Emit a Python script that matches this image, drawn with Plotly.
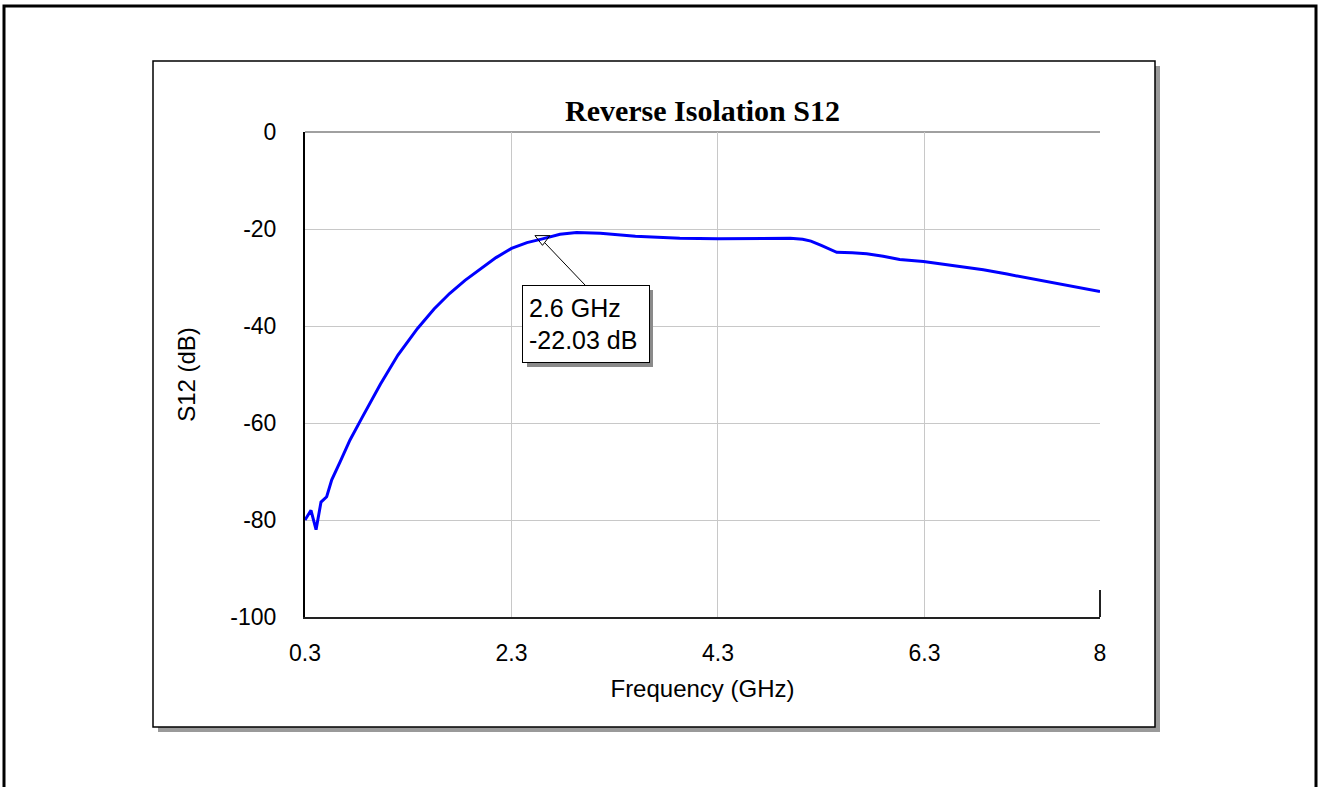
import plotly.graph_objects as go

# Data
freq_ghz = [0.30, 0.358, 0.407, 0.455, 0.51, 0.559, 0.64, 0.736, 0.85, 1.03, 1.2,
            1.39, 1.55, 1.70, 1.85, 2.0, 2.15, 2.3, 2.45, 2.6, 2.77, 2.93, 3.16,
            3.5, 3.93, 4.3, 4.7, 5.0, 5.12, 5.2, 5.3, 5.45, 5.6, 5.74, 5.9, 6.06,
            6.29, 6.55, 6.87, 7.1, 7.35, 7.7, 8.0]
s12_db = [-80.0, -78.0, -82.0, -76.3, -75.2, -71.7, -68.0, -63.5, -59.0, -52.0, -46.0,
          -40.5, -36.5, -33.3, -30.6, -28.2, -25.9, -24.0, -22.8, -22.03, -21.1, -20.7, -20.9,
          -21.5, -21.9, -22.0, -21.9, -21.9, -22.1, -22.5, -23.4, -24.8, -24.9, -25.1, -25.6, -26.3,
          -26.7, -27.4, -28.4, -29.3, -30.3, -31.6, -32.9]

marker_freq = [2.6]
marker_db = [-22.03]
marker_text = "2.6 GHz<br>-22.03 dB"

x_ticks = [0.3, 2.3, 4.3, 6.3, 8]
x_tick_labels = ["0.3", "2.3", "4.3", "6.3", "8"]
y_ticks = [0, -20, -40, -60, -80, -100]
y_tick_labels = ["0", "-20", "-40", "-60", "-80", "-100"]

W, H = 1319, 787
L, R, T, B = 305, 1100, 132, 617


def px(x):
    return (x - L) / (R - L)


def py(y):
    return (B - y) / (B - T)


fig = go.Figure()
fig.add_trace(go.Scatter(x=freq_ghz, y=s12_db, mode="lines",
                         line=dict(color="#0000ff", width=3), hoverinfo="skip",
                         showlegend=False))
fig.add_trace(go.Scatter(x=marker_freq, y=marker_db, mode="markers",
                         marker=dict(symbol="triangle-down-open", size=13,
                                     color="black", line=dict(width=1)),
                         showlegend=False, hoverinfo="skip"))

shapes = []
# outer page border
shapes.append(dict(type="rect", xref="paper", yref="paper",
                   x0=px(4), x1=px(1316), y0=py(792), y1=py(6),
                   line=dict(color="black", width=3), layer="below"))
# inner box shadow
shapes.append(dict(type="rect", xref="paper", yref="paper",
                   x0=px(158), x1=px(1160), y0=py(732), y1=py(66),
                   line=dict(width=0), fillcolor="#9a9a9a", layer="below"))
# inner box
shapes.append(dict(type="rect", xref="paper", yref="paper",
                   x0=px(153), x1=px(1155), y0=py(727), y1=py(61),
                   line=dict(color="black", width=1.5), fillcolor="white", layer="below"))
# top edge of plot area (gray)
shapes.append(dict(type="line", xref="paper", yref="paper",
                   x0=0, x1=1, y0=1, y1=1,
                   line=dict(color="#a0a0a0", width=2), layer="below"))
# short stub on the right edge near the bottom
shapes.append(dict(type="line", xref="paper", yref="paper",
                   x0=1, x1=1, y0=0, y1=py(590),
                   line=dict(color="#222222", width=2), layer="above"))
# annotation box shadow
shapes.append(dict(type="rect", xref="paper", yref="paper",
                   x0=px(527), x1=px(653), y0=py(367), y1=py(290),
                   line=dict(width=0), fillcolor="#8a8a8a", layer="above"))
# annotation leader line
shapes.append(dict(type="line", xref="paper", yref="paper",
                   x0=px(585), y0=py(285), x1=px(545), y1=py(243),
                   line=dict(color="black", width=1), layer="above"))

fig.update_layout(shapes=shapes)

fig.add_annotation(xref="paper", yref="paper", x=px(522), y=py(285),
                   xanchor="left", yanchor="top", text=marker_text, showarrow=False,
                   align="left", bgcolor="white", bordercolor="black", borderwidth=1,
                   borderpad=6, width=114, height=64,
                   font=dict(family="Liberation Sans, Arial", size=25, color="black"))

tick_font = dict(family="Liberation Sans, Arial", size=23, color="black")
title_font = dict(family="Liberation Sans, Arial", size=24, color="black")

fig.update_layout(
    width=W, height=H,
    margin=dict(l=L, r=W - R, t=T, b=H - B),
    paper_bgcolor="white", plot_bgcolor="white",
    title=dict(text="<b>Reverse Isolation S12</b>", xref="container", x=702.5 / W,
               xanchor="center", yref="container", y=1 - 110 / H, yanchor="middle",
               font=dict(family="Liberation Serif, Times New Roman", size=30, color="black")),
    xaxis=dict(range=[0.3, 8], tickvals=x_ticks, ticktext=x_tick_labels,
               showgrid=True, gridcolor="#c8c8c8", gridwidth=1,
               showline=True, linecolor="#222222", linewidth=2, mirror=False,
               zeroline=False, ticks="", ticklabelstandoff=14, tickfont=tick_font,
               title=dict(text="Frequency (GHz)", font=title_font, standoff=16)),
    yaxis=dict(range=[-100, 0], tickvals=y_ticks, ticktext=y_tick_labels,
               showgrid=True, gridcolor="#c8c8c8", gridwidth=1,
               showline=True, linecolor="black", linewidth=2,
               zeroline=False, ticks="", ticklabelstandoff=22, tickfont=tick_font,
               title=dict(text="S12 (dB)", font=title_font, standoff=28)),
)

fig.write_html("out.html", config={"displayModeBar": False},
               post_script="document.body.style.margin='0px';")
